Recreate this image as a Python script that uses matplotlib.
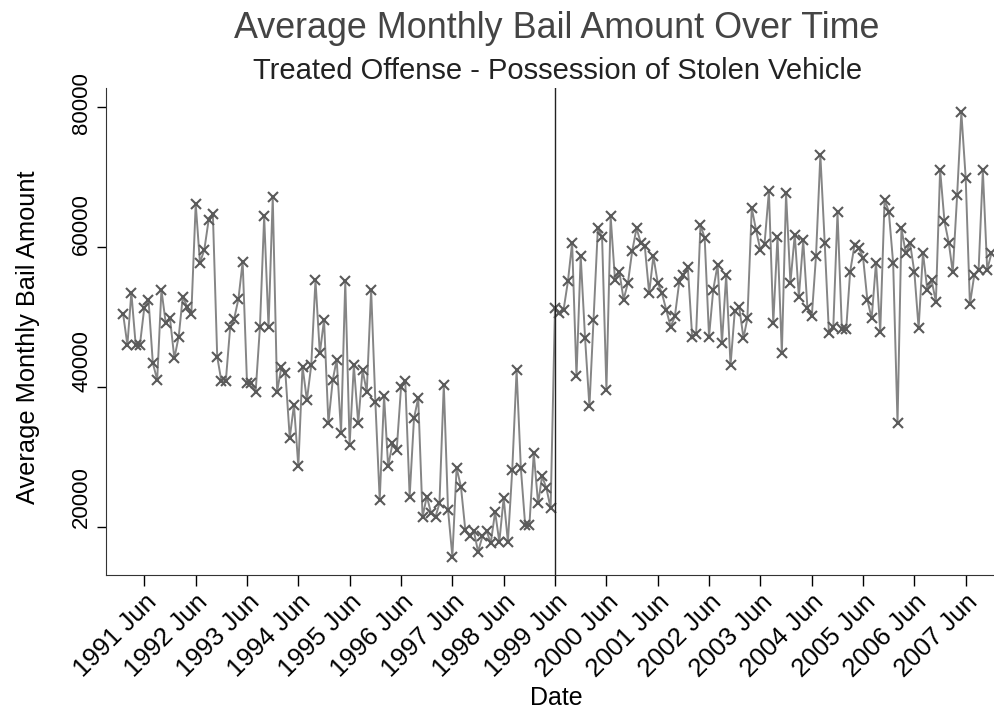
import matplotlib
matplotlib.use("Agg")
import matplotlib.pyplot as plt
import matplotlib.dates as mdates
from matplotlib.transforms import ScaledTranslation
import pandas as pd

plt.rcParams['font.family'] = ['Liberation Sans', 'DejaVu Sans']

# monthly average bail amounts, Jan 1991 - Dec 2007
bail_1991_1994 = [50500, 46000, 53500, 46000, 46000, 51300, 52500, 43400, 41000, 53900, 49100, 49800,
                  44100, 47200, 52900, 51500, 50500, 66200, 57800, 59600, 63900, 64800, 44300, 40800,
                  40800, 48500, 49700, 52600, 57900, 40500, 40600, 39200, 48600, 64400, 48500, 67200,
                  39300, 42900, 42000, 32700, 37400, 28600, 42900, 38100, 43100, 55300, 44800, 49600]
bail_1995_1998 = [34800, 41000, 43900, 33400, 55100, 31700, 43100, 34800, 42400, 39300, 53900, 37900,
                  23800, 38700, 28600, 31900, 31000, 40000, 40800, 24300, 35500, 38400, 21400, 24300,
                  21900, 21400, 23300, 40300, 22400, 15700, 28400, 25700, 19500, 18600, 19300, 16400,
                  18600, 19300, 17600, 22100, 17800, 24100, 17800, 28100, 42400, 28400, 20200, 20200]
bail_1999_2002 = [30500, 23300, 27200, 25500, 22600, 51300, 50600, 51000, 55100, 60600, 41500, 58700,
                  47000, 37200, 49600, 62700, 61500, 39600, 64400, 55300, 56500, 52500, 54900, 59400,
                  62700, 60600, 60100, 53400, 58700, 54900, 53400, 51000, 48600, 50100, 55000, 56000,
                  57200, 47200, 47500, 63200, 61300, 47200, 53900, 57500, 46300, 56000, 43100, 50800]
bail_2003_2007 = [51500, 47000, 49800, 65600, 62500, 59600, 60500, 68000, 49100, 61500, 44800, 67700,
                  54900, 61800, 52900, 61000, 51300, 50100, 58700, 73200, 60600, 47700, 48500, 65000,
                  48300, 48300, 56500, 60300, 59900, 58500, 52500, 49800, 57800, 47900, 66800, 65100,
                  57700, 34800, 62700, 59100, 60600, 56400, 48400, 59200, 53900, 55300, 52200, 71100,
                  63700, 60600, 56400, 67400, 79300, 69900, 51800, 56000, 56800, 71000, 56800, 59100]
bail = bail_1991_1994 + bail_1995_1998 + bail_1999_2002 + bail_2003_2007
months = pd.date_range("1991-01-01", periods=len(bail), freq="MS")

treatment_date = pd.Timestamp("1999-06-01")
tick_dates = pd.date_range("1991-06-01", "2007-06-01", freq="12MS")
y_ticks = [20000, 40000, 60000, 80000]
# upward nudge (points) for each y tick label
ytick_shift_pt = [21.0, 18.9, 16.3, 3.4]

fig = plt.figure(figsize=(9.95, 7.15), dpi=100)
ax = fig.add_axes([0.1065, 0.196, 0.8935, 0.681])

ax.plot(months, bail, color='#858585', linewidth=1.4,
        marker='x', markersize=7.5, markeredgewidth=1.5, markeredgecolor='#5a5a5a')
ax.axvline(treatment_date, color='#222222', linewidth=1.0)

ax.set_xlim(pd.Timestamp("1990-09-01 12:00"), pd.Timestamp("2007-12-26 12:00"))
ax.set_ylim(13080, 82800)
ax.set_yticks(y_ticks)
ax.set_xticks(tick_dates)
ax.xaxis.set_major_formatter(mdates.DateFormatter("%Y %b"))

ax.tick_params(axis='x', labelsize=18.5, length=8, width=1, pad=3)
ax.tick_params(axis='y', labelsize=16, length=6.5, width=1, pad=3.5)

for lbl in ax.get_xticklabels():
    lbl.set_rotation(45)
    lbl.set_ha('right')
    lbl.set_rotation_mode('anchor')
for tick, dy in zip(ax.yaxis.get_major_ticks(), ytick_shift_pt):
    tick.label1.set_rotation(90)
    tick.label1.set_va('center')
    tick.label1.set_transform(tick.label1.get_transform()
                              + ScaledTranslation(0, dy / 72, fig.dpi_scale_trans))

ax.spines['top'].set_visible(False)
ax.spines['right'].set_visible(False)
ax.spines['left'].set_color('#333333')
ax.spines['bottom'].set_color('#333333')

ax.set_xlabel("Date", fontsize=18)
ax.xaxis.set_label_coords(0.507, -0.228)
ax.set_ylabel("Average Monthly Bail Amount", fontsize=18.3)
ax.yaxis.set_label_coords(-0.074, 0.488)

fig.text(0.559, 0.947, "Average Monthly Bail Amount Over Time", ha='center', va='baseline',
         fontsize=25.8, color='#444444')
fig.text(0.56, 0.889, "Treated Offense - Possession of Stolen Vehicle", ha='center', va='baseline',
         fontsize=21, color='#222222')

fig.savefig("out.png", dpi=100)
